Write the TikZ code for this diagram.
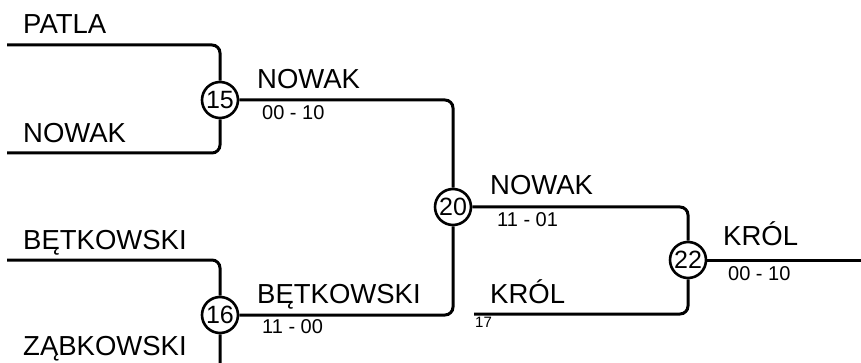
\documentclass[tikz,border=0pt]{standalone}
\usepackage{fontspec}
\setmainfont{Liberation Sans}
\begin{document}
\begin{tikzpicture}[x=1pt,y=-1pt,
  wire/.style={line width=3pt, rounded corners=8pt},
  matchnode/.style={circle, draw, line width=2.6pt, fill=white, minimum size=36pt, inner sep=0pt, font=\fontsize{25}{28}\selectfont},
  playertxt/.style={anchor=base west, inner sep=0pt, font=\fontsize{27.5}{32}\selectfont},
  scoretxt/.style={anchor=base west, inner sep=0pt, font=\fontsize{20}{24}\selectfont},
  smalltxt/.style={anchor=base west, inner sep=0pt, font=\fontsize{15}{18}\selectfont}]
\useasboundingbox (0,0) rectangle (861,363);
\clip (0,0) rectangle (861,363);
% coordinates for free ends
\coordinate (p1) at (7,45);
\coordinate (n1) at (7,153);
\coordinate (b1) at (7,260);
\coordinate (z1) at (7,372);
\coordinate (k17) at (474,314);
\coordinate (e22) at (870,260);
% matches
\node[matchnode] (m15) at (220,100) {15};
\node[matchnode] (m16) at (220,315) {16};
\node[matchnode] (m20) at (453,207) {20};
\node[matchnode] (m22) at (688,260) {22};
% connectors
\draw[wire] (p1) -| (m15.north);
\draw[wire] (n1) -| (m15.south);
\draw[wire] (b1) -| (m16.north);
\draw[wire] (z1) -| (m16.south);
\draw[wire] (m15.east) -| (m20.north);
\draw[wire] (m16.east) -| (m20.south);
\draw[wire] (m20.east) -| (m22.north);
\draw[wire] (k17) -| (m22.south);
\draw[wire] (m22.east) -- (e22);
% labels
\node[playertxt] (tPatla) at (23,34) {PATLA};
\node[playertxt] (tNowak1) at (23,143) {NOWAK};
\node[playertxt] (tBet1) at (23,250) {BĘTKOWSKI};
\node[playertxt] (tZab) at (23,355) {ZĄBKOWSKI};
\node[playertxt] (tNowak2) at (257,89) {NOWAK};
\node[scoretxt] (s15) at (262,120) {00 - 10};
\node[playertxt] (tBet2) at (257,303) {BĘTKOWSKI};
\node[scoretxt] (s16) at (262,333) {11 - 00};
\node[playertxt] (tNowak3) at (490,195) {NOWAK};
\node[scoretxt] (s20) at (497,227) {11 - 01};
\node[playertxt] (tKrol1) at (490,303) {KRÓL};
\node[smalltxt] (t17) at (475,327) {17};
\node[playertxt] (tKrol2) at (723,245) {KRÓL};
\node[scoretxt] (s22) at (728,280) {00 - 10};
\end{tikzpicture}
\end{document}
